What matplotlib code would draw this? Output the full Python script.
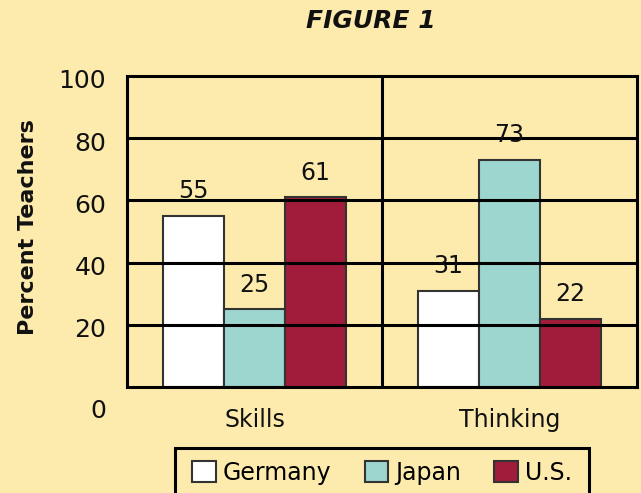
import matplotlib
matplotlib.use("Agg")
import matplotlib.pyplot as plt
import matplotlib.transforms as mtransforms
from matplotlib.patches import Patch, Rectangle
import numpy as np

title = "FIGURE 1"
categories = ["Skills", "Thinking"]
series_names = ["Germany", "Japan", "U.S."]
germany = [55, 31]
japan = [25, 73]
us = [61, 22]
yticks = [0, 20, 40, 60, 80, 100]
ylabel = "Percent Teachers"

bg = "#FDEBAD"
colors = ["#FFFFFF", "#9DD6CF", "#A11C3A"]

plt.rcParams['font.family'] = ['DejaVu Sans']

W, H = 641, 493
fig = plt.figure(figsize=(W / 100, H / 100), dpi=100, facecolor=bg)
ax = fig.add_axes([127 / W, 1 - 387 / H, (637 - 127) / W, (387 - 76) / H])
ax.set_facecolor(bg)

x = np.arange(len(categories))
width = 0.24
values = [germany, japan, us]
for i, (vals, c, name) in enumerate(zip(values, colors, series_names)):
    pos = x + (i - 1) * width
    ax.bar(pos, vals, width, color=c, edgecolor="#333333", linewidth=1.5, zorder=2, label=name)
    for px, v in zip(pos, vals):
        ax.annotate(str(v), (px, v), xytext=(0, 9), textcoords="offset points",
                    ha="center", va="bottom", fontsize=17, color="#111111", zorder=5)

for yv in yticks[1:-1]:
    ax.axhline(yv, color="black", lw=2.2, zorder=3)
ax.axvline(0.5, color="black", lw=2.2, zorder=3)

ax.set_xlim(-0.5, 1.5)
ax.set_ylim(0, 100)
for s in ax.spines.values():
    s.set_linewidth(2.2)
    s.set_color("black")

ax.set_yticks(yticks)
ax.set_yticklabels([str(t) for t in yticks], fontsize=18, color="#111111")
ax.tick_params(axis="y", length=0, pad=15)
ax.set_xticks(x)
ax.set_xticklabels(categories, fontsize=17, color="#111111")
ax.tick_params(axis="x", length=0, pad=15)

# shift y tick labels slightly downward; "0" further
for lbl, t in zip(ax.get_yticklabels(), yticks):
    dy = -22 if t == 0 else -3
    lbl.set_transform(lbl.get_transform() + mtransforms.ScaledTranslation(0, dy / 100, fig.dpi_scale_trans))

fig.text(28 / W, 1 - 227 / H, ylabel, rotation=90, ha="center", va="center",
         fontsize=16, fontweight="bold", color="#111111")
fig.text(371 / W, 1 - 21 / H, title, ha="center", va="center", fontsize=18,
         fontweight="heavy", fontstyle="italic", color="#111111")

handles = [Patch(facecolor=c, edgecolor="#333333", linewidth=1.5) for c in colors]
leg = fig.legend(handles, series_names, loc="center", bbox_to_anchor=(382 / W, 1 - 473 / H),
                 ncol=3, fontsize=17, frameon=False, handlelength=1.0, handleheight=1.0,
                 handletextpad=0.3, columnspacing=1.4, borderpad=0.0, borderaxespad=0)

# legend frame, running off the bottom edge as in the original
frame = Rectangle((175 / W, -10 / H), (589 - 175) / W, (493 - 448 + 10) / H,
                  transform=fig.transFigure, facecolor="none", edgecolor="black",
                  linewidth=2.2, clip_on=False)
fig.add_artist(frame)

fig.savefig("out.png", dpi=100, facecolor=bg)
